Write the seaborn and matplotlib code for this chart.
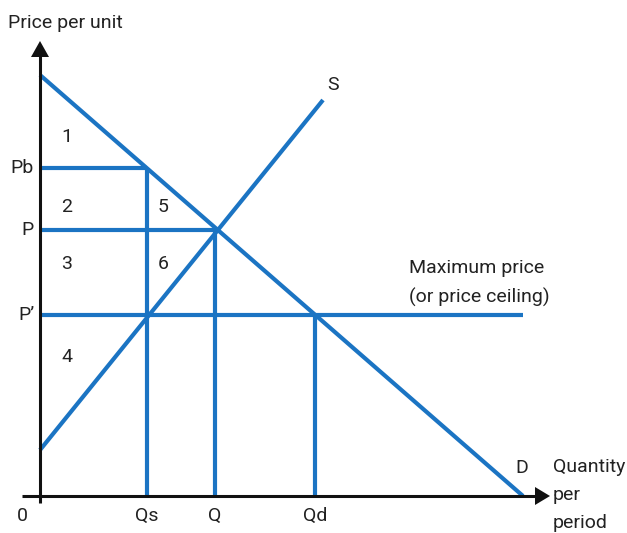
import matplotlib
matplotlib.use("Agg")
import matplotlib.pyplot as plt
import seaborn as sns
import pandas as pd

sns.set_theme(style="white")
plt.rcParams["font.family"] = ["Roboto", "DejaVu Sans"]

# Demand and supply curves (quantity, price)
demand_q = [0.0, 48.3]
demand_p = [42.1, 0.0]
supply_q = [0.0, 28.3]
supply_p = [4.6, 39.6]

# Price levels and the quantities tied to them
price_labels = ["Pb", "P", "P\u2019"]
price_values = [32.8, 26.6, 18.1]
price_ends = [10.7, 17.5, 48.3]          # horizontal guide reaches this quantity
qty_labels = ["Qs", "Q", "Qd"]
qty_values = [10.7, 17.5, 27.5]
qty_tops = [32.8, 26.6, 18.1]            # vertical guide rises to this price

# Area numbers (quantity, price, label)
area_x = [2.7, 2.7, 2.7, 2.7, 12.3, 12.3]
area_y = [35.9, 28.9, 23.2, 13.9, 28.9, 23.2]
area_txt = ["1", "2", "3", "4", "5", "6"]

BLUE = "#1b74c3"
INK = "#222222"
LW = 3.0
FS = 14

fig = plt.figure(figsize=(6.27, 5.33), dpi=100)
ax = fig.add_axes([0, 0, 1, 1])
ax.set_xlim(-4.0, 58.7)
ax.set_ylim(-3.7, 49.6)
ax.axis("off")

curves = pd.concat([
    pd.DataFrame({"q": demand_q, "p": demand_p, "curve": "D"}),
    pd.DataFrame({"q": supply_q, "p": supply_p, "curve": "S"}),
])
sns.lineplot(data=curves, x="q", y="p", units="curve", estimator=None,
             color=BLUE, lw=LW, ax=ax, solid_capstyle="butt", legend=False)

for lab, p, end in zip(price_labels, price_values, price_ends):
    ax.plot([0, end], [p, p], color=BLUE, lw=LW, solid_capstyle="butt")
    ax.text(-0.6, p, lab, ha="right", va="center", fontsize=FS, color=INK)

for lab, q, top in zip(qty_labels, qty_values, qty_tops):
    ax.plot([q, q], [0, top], color=BLUE, lw=LW, solid_capstyle="butt")
    ax.text(q, -1.1, lab, ha="center", va="top", fontsize=FS, color=INK)

# Axes with arrow heads
ax.plot([0, 0], [-0.7, 44.0], color="#111111", lw=2.2, solid_capstyle="butt")
ax.plot([-1.8, 49.6], [0, 0], color="#111111", lw=2.2, solid_capstyle="butt")
ax.fill([-0.9, 0.9, 0], [43.9, 43.9, 45.5], color="#111111", lw=0)
ax.fill([49.5, 49.5, 51.0], [-0.9, 0.9, 0], color="#111111", lw=0)

for x, y, t in zip(area_x, area_y, area_txt):
    ax.text(x, y, t, ha="center", va="center", fontsize=FS, color=INK)

ax.text(-1.8, -1.1, "0", ha="center", va="top", fontsize=FS, color=INK)
ax.text(-3.2, 47.3, "Price per unit", ha="left", va="center", fontsize=FS, color=INK)
ax.text(29.3, 41.1, "S", ha="center", va="center", fontsize=FS, color=INK)
ax.text(48.2, 2.8, "D", ha="center", va="center", fontsize=FS, color=INK)
ax.text(36.9, 21.3, "Maximum price\n(or price ceiling)", ha="left", va="center",
        fontsize=FS, color=INK, linespacing=1.75)
ax.text(51.3, 0.1, "Quantity\nper\nperiod", ha="left", va="center",
        fontsize=FS, color=INK, linespacing=1.75)

fig.savefig("out.png", dpi=100)
